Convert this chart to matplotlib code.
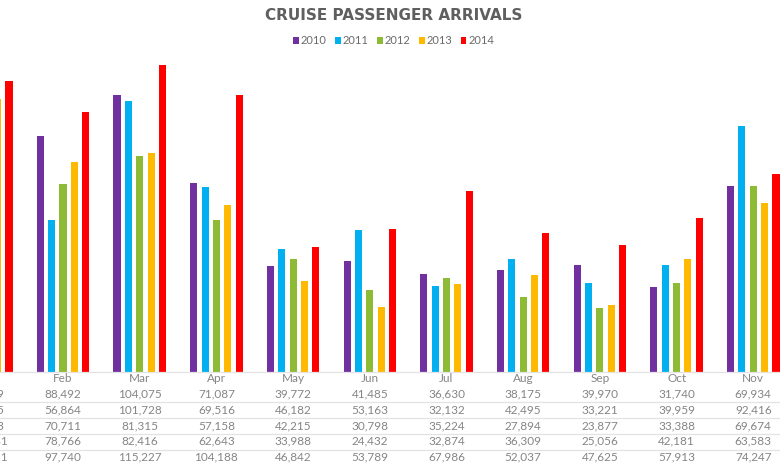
import matplotlib
matplotlib.use("Agg")
import matplotlib.pyplot as plt
import matplotlib.transforms as mtransforms
from matplotlib.patches import Patch
from matplotlib.lines import Line2D
import numpy as np

months = ["Jan", "Feb", "Mar", "Apr", "May", "Jun", "Jul", "Aug", "Sep", "Oct", "Nov"]
years = ["2010", "2011", "2012", "2013", "2014"]
v2010 = [99129, 88492, 104075, 71087, 39772, 41485, 36630, 38175, 39970, 31740, 69934]
v2011 = [90645, 56864, 101728, 69516, 46182, 53163, 32132, 42495, 33221, 39959, 92416]
v2012 = [91253, 70711, 81315, 57158, 42215, 30798, 35224, 27894, 23877, 33388, 69674]
v2013 = [102781, 78766, 82416, 62643, 33988, 24432, 32874, 36309, 25056, 42181, 63583]
v2014 = [109221, 97740, 115227, 104188, 46842, 53789, 67986, 52037, 47625, 57913, 74247]
series = [v2010, v2011, v2012, v2013, v2014]
colors = ["#7030A0", "#00B0F0", "#8DBB35", "#FFB900", "#FF0000"]

W, H = 780, 470
fig = plt.figure(figsize=(W / 100, H / 100), dpi=100)
fig.patch.set_facecolor("white")

cat_w = 76.7
first_center = -13.7
left_px = first_center - cat_w / 2
base_px = 371.5
ymax = 140000
scale = 0.002656
height_px = ymax * scale
ax = fig.add_axes([left_px / W, (H - base_px) / H, len(months) * cat_w / W, height_px / H])
ax.set_xlim(-0.5, len(months) - 0.5)
ax.set_ylim(0, ymax)
ax.axis("off")

x = np.arange(len(months))
bw = 0.092
step = 0.148
for i, (vals, c) in enumerate(zip(series, colors)):
    ax.bar(x + (i - 2) * step, vals, width=bw, color=c, zorder=3)

# title and legend
fig.text(0.505, 1 - 16 / H, "CRUISE PASSENGER ARRIVALS", ha="center", va="center",
         fontsize=11, fontweight="bold", color="#5f5f5f", family="DejaVu Sans")
handles = [Patch(facecolor=c, edgecolor="none", label=y) for y, c in zip(years, colors)]
fig.legend(handles=handles, loc="center", bbox_to_anchor=(0.505, 1 - 41 / H), ncol=5,
           frameon=False, handlelength=0.5, handleheight=0.5,
           handletextpad=0.2, columnspacing=0.75, labelcolor="#6a6a6a",
           prop={"family": "Lato", "size": 8})

# data table
trans = mtransforms.blended_transform_factory(ax.transData, fig.transFigure)
header_y = 379
row_ys = [394, 410, 425.5, 441, 457]
tcol = "#858585"
for j, m in enumerate(months):
    ax.text(j, 1 - header_y / H, m, transform=trans, ha="center", va="center",
            fontsize=8.5, color=tcol, family="Lato", clip_on=False)
    for r, vals in enumerate(series):
        ax.text(j, 1 - row_ys[r] / H, f"{vals[j]:,}", transform=trans, ha="center",
                va="center", fontsize=8.5, color=tcol, family="Lato", clip_on=False)

for ly in [371.5, 402, 418, 434, 449.5]:
    fig.add_artist(Line2D([0, 1], [1 - ly / H, 1 - ly / H], transform=fig.transFigure,
                          color="#e3e3e3", linewidth=0.9))

fig.savefig("out.png", dpi=100)
